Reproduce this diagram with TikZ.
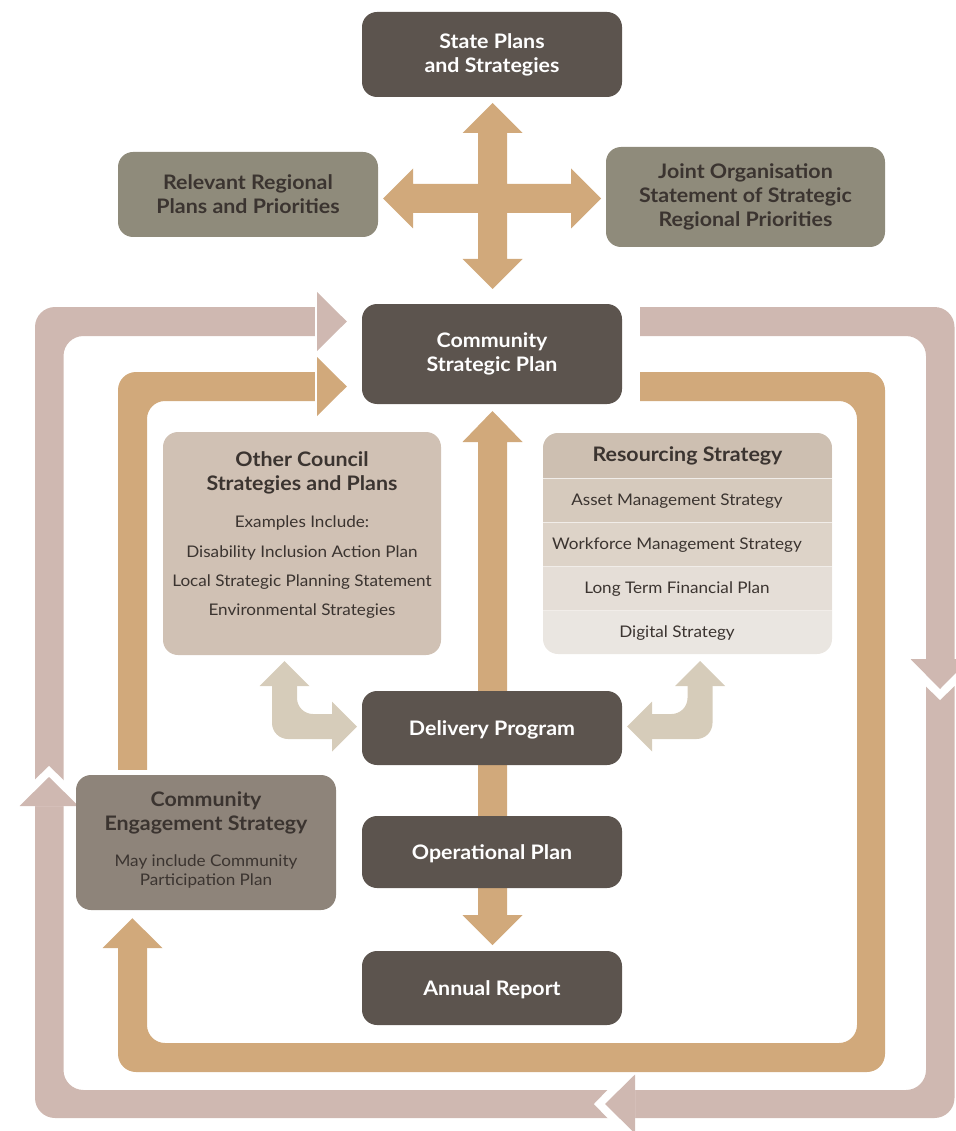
\documentclass[tikz,border=0pt]{standalone}
\usepackage{fontspec}
\setmainfont{Lato}[FakeStretch=1.07]
\usetikzlibrary{calc}
\pgfdeclarelayer{background}
\pgfsetlayers{background,main}
\definecolor{cdark}{HTML}{5C544E}
\definecolor{colive}{HTML}{8F8B7B}
\definecolor{cces}{HTML}{8E847A}
\definecolor{cother}{HTML}{D0C1B4}
\definecolor{cpink}{HTML}{CFB8B1}
\definecolor{cgold}{HTML}{D1A97B}
\definecolor{cbeige}{HTML}{D6CCBA}
\definecolor{rh}{HTML}{CDBFB1}
\definecolor{rA}{HTML}{D6CABD}
\definecolor{rB}{HTML}{DDD3C8}
\definecolor{rC}{HTML}{E5DED7}
\definecolor{rD}{HTML}{EAE6E1}
\definecolor{ctext}{HTML}{3B3430}
\newcommand\mytitle{\fontsize{20}{24}\selectfont\bfseries}
\newcommand\mybody{\fontsize{16}{19}\selectfont}
\begin{document}
\begin{tikzpicture}[x=1pt,y=-1pt,
  box/.style={rounded corners=15pt, inner sep=0pt, align=center},
  darkbox/.style={box, fill=cdark, minimum width=260pt, text=white, font=\mytitle, execute at begin node={\rule{0pt}{19pt}}},
  olivebox/.style={box, fill=colive, text=ctext, font=\mytitle, execute at begin node={\rule{0pt}{18pt}}},
  ttltext/.style={text=ctext, font=\mytitle, align=center, inner sep=0pt, yshift=-2pt},
  bodytext/.style={text=ctext, font=\mybody, align=center, inner sep=0pt, text height=11pt, text depth=3pt, yshift=-1.5pt},
  rowtext/.style={text=ctext, font=\mybody, inner sep=0pt, text height=11pt, text depth=3pt, yshift=-1pt},
  pinkfill/.style={fill=cpink},
  goldfill/.style={fill=cgold},
  beigefill/.style={fill=cbeige},
  eraser/.style={fill=white}
]
\useasboundingbox (0,0) rectangle (955,1131);

% ---------- boxes ----------
\node[darkbox, minimum height=85pt] (state) at (492,54.5) {State Plans\\and Strategies};
\node[olivebox, minimum width=260pt, minimum height=85pt] (regional) at (248,194.5) {Relevant Regional\\Plans and Priorities};
\node[olivebox, minimum width=279pt, minimum height=100pt, execute at begin node={\rule{0pt}{21pt}}] (joint) at (745.5,197) {Joint Organisation\\Statement of Strategic\\Regional Priorities};
\node[darkbox, minimum height=100pt, execute at begin node={\rule{0pt}{24pt}}] (csp) at (492,354) {Community\\Strategic Plan};
\node[box, fill=cother, minimum width=278pt, minimum height=223pt] (other) at (302,543.5) {};
\node[ttltext] (otherT) at (302,471) {Other Council\\Strategies and Plans};
\node[bodytext] (ex0) at (302,522) {Examples Include:};
\node[bodytext] (ex1) at (302,552) {Disability Inclusion Action Plan};
\node[bodytext] (ex2) at (302,581) {Local Strategic Planning Statement};
\node[bodytext] (ex3) at (302,610) {Environmental Strategies};

\node[box, fill=rD, minimum width=289pt, minimum height=221pt] (res) at (687.5,543.5) {};
\begin{scope}
  \clip[rounded corners=15pt] (543,433) rectangle (832,654);
  \fill[rh] (543,433) rectangle (832,478);
  \fill[rA] (543,478) rectangle (832,522);
  \fill[rB] (543,522) rectangle (832,566);
  \fill[rC] (543,566) rectangle (832,610);
  \draw[white!60!rB, line width=0.8pt] (543,478) -- (832,478) (543,522) -- (832,522) (543,566) -- (832,566) (543,610) -- (832,610);
\end{scope}
\node[ttltext, yshift=1pt] (resT) at (687.5,455) {Resourcing Strategy};
\node[rowtext] (r1) at (677,500) {Asset Management Strategy};
\node[rowtext] (r2) at (677,544) {Workforce Management Strategy};
\node[rowtext] (r3) at (677,588) {Long Term Financial Plan};
\node[rowtext] (r4) at (677,632) {Digital Strategy};

\node[darkbox, minimum height=74pt] (delivery) at (492,728) {Delivery Program};
\node[box, fill=cces, minimum width=260pt, minimum height=135pt] (ces) at (206,842.5) {};
\node[ttltext] (cesT) at (206,811) {Community\\Engagement Strategy};
\node[bodytext, text height=, text depth=] (cesB) at (206,869.5) {May include Community\\Participation Plan};
\node[darkbox, minimum height=72pt] (operational) at (492,852) {Operational Plan};
\node[darkbox, minimum height=74pt] (annual) at (492,988) {Annual Report};

% ---------- arrows (behind boxes) ----------
\begin{pgfonlayer}{background}
% outer pink loop
\fill[pinkfill, even odd rule, rounded corners=20pt] (35,307) rectangle (954.5,1118) (63.5,336) rectangle (926,1090);
% inner gold loop
\fill[goldfill, even odd rule, rounded corners=18pt] (118,372) rectangle (885,1072) (147,401) rectangle (857,1043);
% gaps
\fill[eraser] (315,304) rectangle (640,339);
\fill[eraser] (315,369) rectangle (640,404);
\fill[eraser] (115,770) rectangle (150,948);
% notches of the pink loop
\fill[eraser] (925,659) -- (925,685.5) -- (940,700) -- (955,685.5) -- (955,659) -- cycle;
\fill[eraser] (635,1089) -- (608.5,1089) -- (594,1104) -- (608.5,1119) -- (635,1119) -- cycle;
\fill[eraser] (34,806) -- (34,780.5) -- (49,766) -- (64,780.5) -- (64,806) -- cycle;
% heads of the pink loop
\coordinate (pinkTip) at ($(csp.west)+(-15,-32.5)$);
\fill[pinkfill] (317,292) -- (pinkTip) -- (317,351) -- cycle;
\fill[pinkfill] (910.5,659) -- (940,689) -- (969.5,659) -- cycle;
\fill[pinkfill] (635,1074.5) -- (605,1104) -- (635,1133.5) -- cycle;
\fill[pinkfill] (19.5,806) -- (49,777) -- (78.5,806) -- cycle;
% heads of the gold loop
\coordinate (goldTip) at ($(csp.west)+(-15,32.5)$);
\fill[goldfill] (317,357) -- (goldTip) -- (317,416) -- cycle;
\coordinate (cesTip) at ($(ces.south west)+(56.5,8)$);
\fill[goldfill] (102.5,948) -- (cesTip) -- (162.5,948) -- cycle;
% cross arrow between state / regional / joint / csp
\fill[goldfill] (492.5,103) -- (522.5,133) -- (507,133) -- (507,184) -- (571,184) -- (571,168.5) -- (601,198.5) -- (571,228.5) -- (571,213) -- (507,213) -- (507,259) -- (522.5,259) -- (492.5,289) -- (462.5,259) -- (478,259) -- (478,213) -- (413,213) -- (413,228.5) -- (383,198.5) -- (413,168.5) -- (413,184) -- (478,184) -- (478,133) -- (462.5,133) -- cycle;
% central column: csp <-> delivery <-> operational <-> annual
\fill[goldfill] (492.5,411) -- (522.5,442) -- (507,442) -- (507,915) -- (522.5,915) -- (492.5,945) -- (462.5,915) -- (478,915) -- (478,442) -- (462.5,442) -- cycle;
% left L arrow: other <-> delivery
\begin{scope}
  \clip (270,686) rectangle (333,741);
  \fill[beigefill, even odd rule, rounded corners=16pt] (272,600) rectangle (400,739) (297,500) rectangle (500,714);
\end{scope}
\fill[beigefill] (259.5,686) -- (284.5,661) -- (309.5,686) -- cycle;
\fill[beigefill] (332,701.5) -- (357,726.5) -- (332,751.5) -- cycle;
% right L arrow: resourcing <-> delivery
\begin{scope}
  \clip (651,686) rectangle (714,741);
  \fill[beigefill, even odd rule, rounded corners=16pt] (580,600) rectangle (712.5,739) (480,500) rectangle (687.5,714);
\end{scope}
\fill[beigefill] (675,686) -- (700,661) -- (725,686) -- cycle;
\fill[beigefill] (652,701.5) -- (627,726.5) -- (652,751.5) -- cycle;
\end{pgfonlayer}
\end{tikzpicture}
\end{document}
